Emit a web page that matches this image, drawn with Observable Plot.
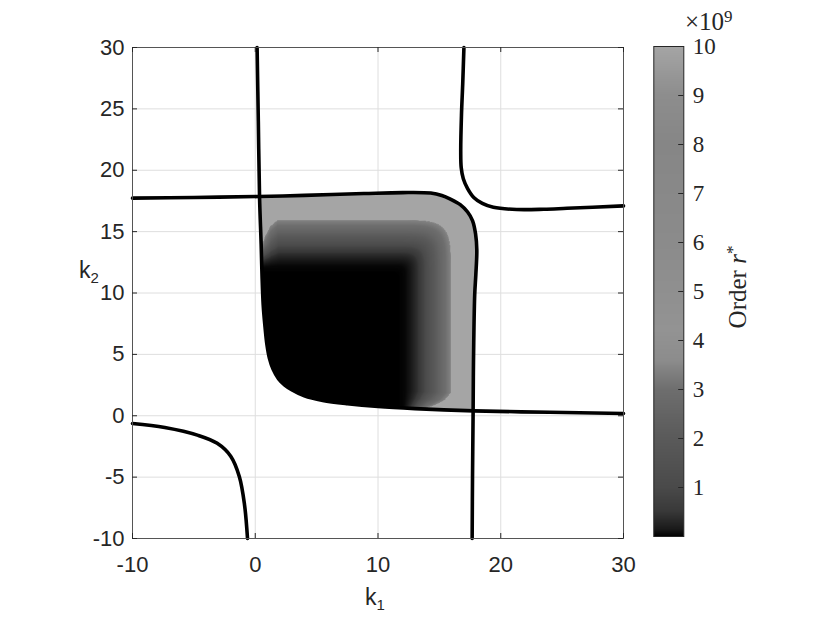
<!DOCTYPE html>
<html><head><meta charset="utf-8">
<script src="https://cdn.jsdelivr.net/npm/d3@7"></script>
<script src="https://cdn.jsdelivr.net/npm/@observablehq/plot@0.6"></script>
<style>
body{margin:0;background:#fff;}
#wrap{position:relative;width:830px;height:623px;overflow:hidden;font-family:"Liberation Sans",Arial,sans-serif;}
#wrap svg{position:absolute;top:0;}
.lab{position:absolute;color:#262626;font-family:"Liberation Sans",Arial,sans-serif;font-size:23px;line-height:1;white-space:nowrap;}
.lab sub{font-size:15px;position:relative;top:5px;vertical-align:baseline;}
.ser{font-family:"Liberation Serif","Times New Roman",serif;color:#262626;position:absolute;line-height:1;white-space:nowrap;}
.ser sup{font-size:0.68em;position:relative;top:-0.45em;vertical-align:baseline;}
svg.mainplot text{font-family:"Liberation Sans",Arial,sans-serif !important;font-size:22px !important;}
svg.cbplot text{font-family:"Liberation Serif","Times New Roman",serif !important;font-size:23px !important;}
</style></head><body><div id="wrap"></div>
<script>
// ---- axes ----
const k1Ticks = [-10, 0, 10, 20, 30];
const k2Ticks = [-10, -5, 0, 5, 10, 15, 20, 25, 30];
const cbTicks = [1e9, 2e9, 3e9, 4e9, 5e9, 6e9, 7e9, 8e9, 9e9, 10e9];

// ---- colormap (value, grey) ----
const cmapStops  = [0, 0.15e9, 0.5e9, 1e9, 2e9, 3e9, 3.6e9, 4.2e9, 6e9, 8e9, 9e9, 10e9];
const cmapColors = ["#000000","#1a1a1a","#383838","#4a4a4a","#5a5a5a","#6e6e6e","#8c8c8c","#939393","#8b8b8b","#868686","#8d8d8d","#a5a5a5"];

// ---- boundary curves (k1, k2) ----
const curveA = [[0.15,30],[0.25,24],[0.35,17.8],[0.48,14],[0.55,11.5],[0.65,9],[0.78,7.4],[0.95,5.8],[1.15,4.7],[1.45,3.8],[1.9,3.0],[2.4,2.5],[3.0,2.1],[4.0,1.62],[5.5,1.25],[7.5,0.98],[10,0.75],[13,0.58],[17.8,0.4],[24,0.28],[30,0.18]];
const curveB = [[-10,17.73],[-5,17.78],[0.3,17.86],[4,17.95],[8.85,18.1],[12,18.18],[14.3,18.14],[15.2,17.95],[15.9,17.65],[16.7,17.2],[17.3,16.6],[17.7,15.9],[17.95,14.8],[18.05,13.5],[17.97,11.5],[17.88,9.9],[17.8,6],[17.77,3.5],[17.75,0.4],[17.7,-5],[17.67,-10]];
const curveC = [[17.0,30],[16.9,27],[16.8,24.5],[16.74,21.5],[16.78,20.2],[16.95,19.3],[17.3,18.5],[17.8,17.78],[18.5,17.3],[19.4,16.98],[21.3,16.8],[23.5,16.82],[25.4,16.9],[30,17.1]];
const curveD = [[-10,-0.63],[-7.37,-0.96],[-4.65,-1.6],[-3.1,-2.25],[-2.0,-3.3],[-1.3,-4.95],[-0.88,-7.2],[-0.63,-10]];

// ---- order r* profile towards the upper / right edge of the region (position, r*) ----
const bandPos = [0, 11.6, 12.2, 12.7, 13.2, 13.7, 14.2, 14.7, 15.1, 15.5, 15.9, 15.95, 30];
const bandR   = [0, 0, 0.04e9, 0.15e9, 0.4e9, 0.8e9, 1.5e9, 2.1e9, 2.6e9, 3.0e9, 3.4e9, 10e9, 10e9];
// extra rise of the order close to curve A (distance, shift of position)
const nearA    = [0, 0.35, 0.8, 1.4];
const nearAAdd = [2.2, 1.3, 0.5, 0];

// region between curve A and curve B
const region = curveA.filter(([a,b]) => b <= 17.8 && a <= 17.8)
  .concat(curveB.filter(([a,b]) => a >= 0.3 && b >= 0.4).reverse());
const band = d3.scaleLinear(bandPos, bandR).clamp(true);
const boost = d3.scaleLinear(nearA, nearAAdd).clamp(true);
function distA(x, y) {
  let best = Infinity;
  for (let i = 0; i < curveA.length - 1; i++) {
    const [ax, ay] = curveA[i], [bx, by] = curveA[i + 1];
    const dx = bx - ax, dy = by - ay;
    let t = ((x - ax) * dx + (y - ay) * dy) / (dx * dx + dy * dy);
    t = Math.max(0, Math.min(1, t));
    const ex = ax + t * dx - x, ey = ay + t * dy - y;
    best = Math.min(best, ex * ex + ey * ey);
  }
  return Math.sqrt(best);
}
const step = 0.05, n = 368;
const cells = [];
for (let i = 0; i < n; i++) for (let j = 0; j < n; j++) {
  const k1 = (i + 0.5) * step, k2 = (j + 0.5) * step;
  if (!d3.polygonContains(region, [k1, k2])) continue;
  const base = 11, p = 5;
  let s = base + Math.pow(Math.pow(Math.max(0, k1 - base), p) + Math.pow(Math.max(0, k2 - base), p), 1 / p);
  if (s > 12) s += boost(distA(k1, k2)) * Math.min(1, (s - 12) / 2);
  cells.push({k1, k2, r: band(s)});
}

const toObj = c => c.map(([k1, k2]) => ({k1, k2}));
const lineOpts = {x: "k1", y: "k2", stroke: "#000", strokeWidth: 3.6, curve: "catmull-rom"};
const colorOpt = {type: "linear", domain: cmapStops, range: cmapColors, clamp: true};
const tl = 5 / 12.275;

const main = Plot.plot({
  className: "mainplot",
  width: 830, height: 623,
  marginLeft: 132, marginRight: 207, marginTop: 47, marginBottom: 85,
  style: {color: "#262626", background: "transparent"},
  x: {domain: [-10, 30], label: null},
  y: {domain: [-10, 30], label: null},
  color: colorOpt,
  marks: [
    Plot.gridX(k1Ticks, {stroke: "#dedede", strokeOpacity: 1}),
    Plot.gridY(k2Ticks, {stroke: "#dedede", strokeOpacity: 1}),
    Plot.raster(cells, {x: "k1", y: "k2", fill: "r", x1: 0, x2: n * step, y1: 0, y2: n * step, width: n, height: n}),
    Plot.line(toObj(curveA), lineOpts),
    Plot.line(toObj(curveB), lineOpts),
    Plot.line(toObj(curveC), lineOpts),
    Plot.line(toObj(curveD), lineOpts),
    Plot.frame({stroke: "#555"}),
    Plot.ruleY(k2Ticks, {x1: -10, x2: -10 + tl, stroke: "#262626"}),
    Plot.ruleY(k2Ticks, {x1: 30 - tl, x2: 30, stroke: "#262626"}),
    Plot.ruleX(k1Ticks, {y1: -10, y2: -10 + tl, stroke: "#262626"}),
    Plot.ruleX(k1Ticks, {y1: 30 - tl, y2: 30, stroke: "#262626"}),
    Plot.axisX(k1Ticks, {tickSize: 0, tickPadding: 18, tickFormat: d => String(d), label: null}),
    Plot.axisY(k2Ticks, {tickSize: 0, tickPadding: 8, tickFormat: d => String(d), label: null})
  ]
});

const cbVals = d3.range(500).map(i => (i + 0.5) * 2e7);
const cb = Plot.plot({
  className: "cbplot",
  width: 190, height: 623,
  marginLeft: 13.3, marginRight: 146.7, marginTop: 46, marginBottom: 87,
  style: {color: "#262626", background: "transparent"},
  x: {domain: [0, 1], axis: null},
  y: {domain: [0, 1e10], axis: null},
  color: colorOpt,
  marks: [
    Plot.raster(cbVals, {x: () => 0.5, y: d => d, fill: d => d, x1: 0, x2: 1, y1: 0, y2: 1e10, width: 1, height: 500}),
    Plot.frame({stroke: "#262626"}),
    Plot.ruleY(cbTicks, {x1: 0.83, x2: 1, stroke: "#262626"}),
    Plot.axisY(cbTicks, {anchor: "right", tickSize: 0, tickPadding: 9, tickFormat: d => String(d / 1e9), label: null})
  ]
});

const wrap = document.getElementById("wrap");
main.style.left = "0px";
cb.style.left = "640px";
wrap.appendChild(main);
wrap.appendChild(cb);

function addLab(html, cls, css) {
  const d = document.createElement("div");
  d.className = cls; d.innerHTML = html; Object.assign(d.style, css); wrap.appendChild(d);
}
addLab("k<sub>1</sub>", "lab", {left: "365px", top: "586px"});
addLab("k<sub>2</sub>", "lab", {left: "79px", top: "259px"});
addLab("×10<sup>9</sup>", "ser", {left: "685px", top: "9px", fontSize: "25px"});
addLab("Order <i>r</i><sup>*</sup>", "ser", {left: "737px", top: "287px", fontSize: "25px", transform: "translate(-50%,-50%) rotate(-90deg)"});
</script></body></html>
